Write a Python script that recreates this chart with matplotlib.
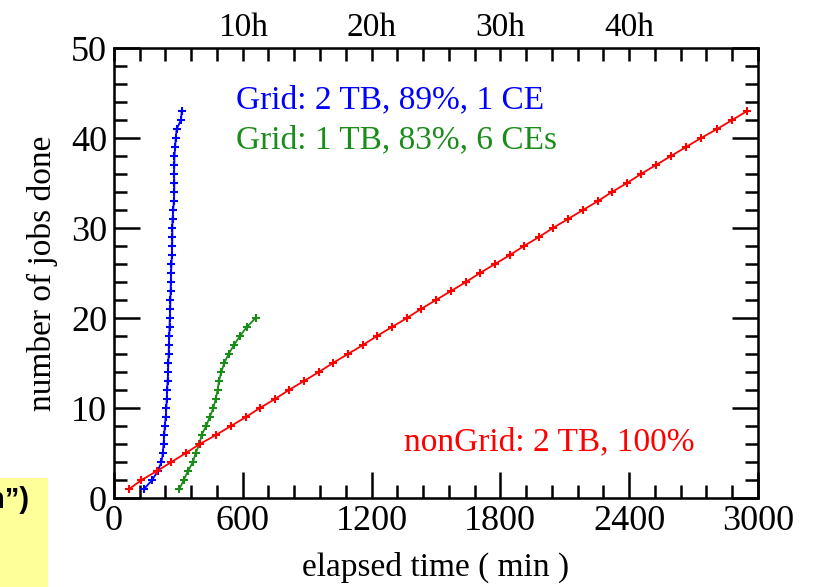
import numpy as np
import matplotlib.pyplot as plt
from matplotlib.ticker import MultipleLocator

# jobs done vs elapsed minutes
blue_t = [140, 178, 204, 221, 228, 231, 234, 237, 241, 244, 246, 248, 250, 252,
          253, 255, 256, 258, 259, 260, 262, 263, 264, 265, 266, 268, 270, 271,
          272, 272, 273, 276, 279, 281, 281, 280, 281, 282, 285, 288, 292, 312, 316]
blue_n = list(range(1, 44))

green_t = [305, 325, 345, 368, 381, 398, 408, 430, 446, 463, 474, 483, 489, 500,
           514, 534, 559, 587, 619, 660]
green_n = list(range(1, 21))

red_t = [71, 128, 200, 268, 335, 400, 475, 545, 615, 680, 750, 815, 885, 955,
         1020, 1090, 1160, 1225, 1295, 1365, 1430, 1500, 1570, 1640, 1705, 1775,
         1845, 1910, 1980, 2045, 2115, 2185, 2255, 2320, 2390, 2455, 2525, 2595,
         2665, 2735, 2810, 2880, 2950]
red_n = list(range(1, 44))

top_ticks = [600, 1200, 1800, 2400]
top_labels = ['10h', '20h', '30h', '40h']

plt.rcParams['font.family'] = ['Liberation Serif', 'DejaVu Serif']

fig = plt.figure(figsize=(8.14, 5.87), dpi=100)
ax = fig.add_axes([0.140, 0.1516, 0.791, 0.7665])

ax.plot(blue_t, blue_n, color='#0000ff', lw=1.3, marker='+', ms=5.5, mew=1.5)
ax.plot(green_t, green_n, color='#1a8c1a', lw=1.3, marker='+', ms=5.5, mew=1.5)
ax.plot(red_t, red_n, color='#ff0000', lw=1.3, marker='+', ms=5.5, mew=1.5)

ax.set_xlim(0, 3000)
ax.set_ylim(0, 50)
ax.xaxis.set_major_locator(MultipleLocator(600))
ax.xaxis.set_minor_locator(MultipleLocator(120))
ax.yaxis.set_major_locator(MultipleLocator(10))
ax.yaxis.set_minor_locator(MultipleLocator(2))
ax.tick_params(which='both', direction='in', right=True, width=1.8,
               labelsize=26, pad=5)
ax.tick_params(which='major', length=19)
ax.tick_params(which='minor', length=9.5)
for s in ax.spines.values():
    s.set_linewidth(1.8)

ax.set_xlabel('elapsed time ( min )', fontsize=24, labelpad=10)
ax.set_ylabel('number of jobs done', fontsize=24, labelpad=9)

top = ax.twiny()
top.set_xlim(0, 3000)
top.set_xticks(top_ticks)
top.set_xticklabels(top_labels)
top.xaxis.set_minor_locator(MultipleLocator(120))
top.tick_params(which='both', direction='in', length=9.5, width=1.8,
                labelsize=24, pad=4)

ax.text(0.19, 0.885, 'Grid: 2 TB, 89%, 1 CE', transform=ax.transAxes,
        color='#0000ff', fontsize=24, va='center')
ax.text(0.19, 0.795, 'Grid: 1 TB, 83%, 6 CEs', transform=ax.transAxes,
        color='#1a8c1a', fontsize=24, va='center')
ax.text(0.45, 0.125, 'nonGrid: 2 TB, 100%', transform=ax.transAxes,
        color='#ff0000', fontsize=24, va='center')

# yellow box cut at the left edge
fig.patches.append(plt.Rectangle((0, 0), 48 / 814, 109 / 587,
                                 transform=fig.transFigure,
                                 facecolor='#ffff99', edgecolor='none'))
fig.text(29 / 814, 1 - 500 / 587, 'n\u201d)', ha='right', va='center',
         fontsize=21, fontweight='bold', family=['Liberation Sans', 'DejaVu Sans'])

fig.savefig('out.png', dpi=100)
